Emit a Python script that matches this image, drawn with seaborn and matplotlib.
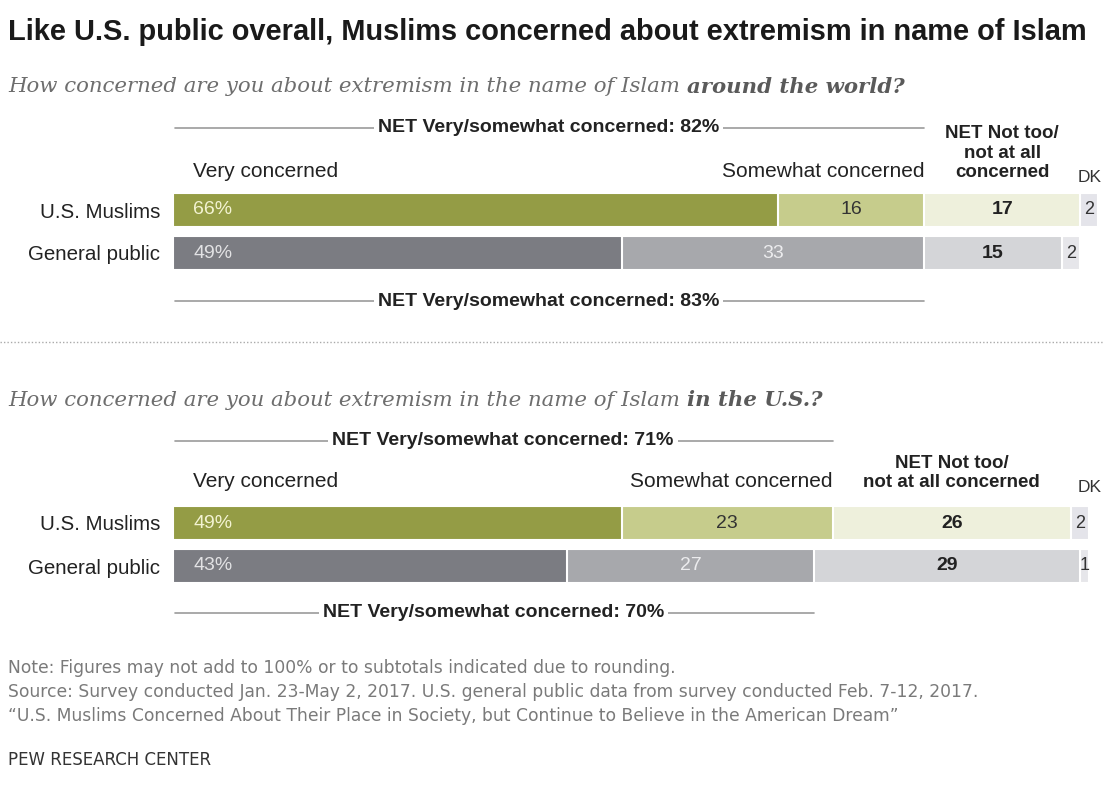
#!/usr/bin/env python3
"""Pew chart: concern about extremism in the name of Islam - stacked bars"""

import matplotlib.pyplot as plt
import pandas as pd
import seaborn as sns
from matplotlib.lines import Line2D

groups = ["U.S. Muslims", "General public"]

# around the world
world_very = [66, 49]
world_somewhat = [16, 33]
world_not = [17, 15]
world_dk = [2, 2]
world_net = [82, 83]

# in the U.S.
us_very = [49, 43]
us_somewhat = [23, 27]
us_not = [26, 29]
us_dk = [2, 1]
us_net = [71, 70]

colors = {
    "very": {"U.S. Muslims": "#949c45", "General public": "#7b7c82"},
    "somewhat": {"U.S. Muslims": "#c6cc8c", "General public": "#a7a8ac"},
    "not": {"U.S. Muslims": "#eef0dc", "General public": "#d4d5d8"},
    "dk": {"U.S. Muslims": "#e4e4ea", "General public": "#e6e6ea"},
}
very_text = {"U.S. Muslims": "#f3f3d2", "General public": "#e2e2e4"}
some_text = {"U.S. Muslims": "#333333", "General public": "#ececee"}

W, H = 1103, 785
sns.set_theme(style="white")
plt.rcParams["font.family"] = ["Liberation Sans", "DejaVu Sans"]

fig = plt.figure(figsize=(W / 100, H / 100), dpi=100)


def fx(px):
    return px / W


def fy(py):
    return 1 - py / H


def panel(top, very, somewhat, notc, dk, net, head_y, not_head, net_y):
    """one block of two stacked bars with its headers and NET lines"""
    ax = fig.add_axes([fx(173), fy(top + 86), fx(930), 86 / H])
    df = pd.DataFrame({"group": groups, "very": very, "somewhat": somewhat,
                       "not": notc, "dk": dk})
    df["c1"] = df["very"]
    df["c2"] = df["c1"] + df["somewhat"]
    df["c3"] = df["c2"] + df["not"]
    df["c4"] = df["c3"] + df["dk"]
    # widest first so the shorter segments sit on top
    for col, key in [("c4", "dk"), ("c3", "not"), ("c2", "somewhat"), ("c1", "very")]:
        sns.barplot(data=df, x=col, y="group", hue="group", palette=colors[key],
                    saturation=1, width=0.79, edgecolor="white", linewidth=1.5,
                    errorbar=None, legend=False, ax=ax)
    ax.set_xlim(0, 101.5)
    ax.set_ylim(1.5, -0.5)
    ax.set_xticks([])
    ax.set_xlabel("")
    ax.set_ylabel("")
    ax.tick_params(axis="y", length=0, pad=9, labelsize=14.8, labelcolor="#222222")
    sns.despine(ax=ax, left=True, bottom=True)

    for i, row in df.iterrows():
        g = row["group"]
        ax.text(2.2, i, f"{row['very']}%", ha="left", va="center", fontsize=14,
                color=very_text[g])
        ax.text(row["c1"] + row["somewhat"] / 2, i, str(row["somewhat"]), ha="center",
                va="center", fontsize=14, color=some_text[g])
        ax.text(row["c2"] + row["not"] / 2, i, str(row["not"]), ha="center",
                va="center", fontsize=14, fontweight="bold", color="#222222")
        ax.text(row["c3"] + row["dk"] / 2, i, str(row["dk"]), ha="center",
                va="center", fontsize=13, color="#333333")

    m = df.iloc[0]
    ax.text(2.2, head_y, "Very concerned", ha="left", va="baseline", fontsize=15,
            color="#222222")
    ax.text(m["c2"], head_y, "Somewhat concerned", ha="right", va="baseline",
            fontsize=15, color="#222222")
    ax.text(m["c2"] + m["not"] / 2, head_y, not_head, ha="center", va="baseline",
            fontsize=13.5, fontweight="bold", color="#222222", linespacing=1.2)
    ax.text(101.3, head_y + 0.1, "DK", ha="right", va="baseline",
            fontsize=12.5, color="#333333")

    # NET lines above (Muslims) and below (general public)
    for i, y in enumerate(net_y):
        end = df.loc[i, "c2"]
        ax.add_line(Line2D([0.2, end], [y, y], color="#9b9b9b", lw=1.2, clip_on=False))
        ax.text(end / 2, y, f"NET Very/somewhat concerned: {net[i]}%", ha="center",
                va="center", fontsize=14, fontweight="bold", color="#222222",
                bbox=dict(fc="white", ec="none", pad=3))
    return ax


panel(188.5, world_very, world_somewhat, world_not, world_dk, world_net,
      -0.76, "NET Not too/\nnot at all\nconcerned", (-1.91, 2.12))
panel(501.5, us_very, us_somewhat, us_not, us_dk, us_net,
      -0.83, "NET Not too/\nnot at all concerned", (-1.91, 2.09))

fig.text(fx(8), fy(32), "Like U.S. public overall, Muslims concerned about extremism in name of Islam",
         ha="left", va="center", fontsize=20.9, fontweight="bold", color="#1a1a1a")

renderer = fig.canvas.get_renderer()


def subtitle(py, plain, strong):
    t = fig.text(fx(8), fy(py), plain, ha="left", va="center", fontsize=15.3,
                 style="italic", color="#6e6e6e", family="DejaVu Serif")
    bb = t.get_window_extent(renderer)
    fig.text(bb.x1 / W, fy(py), strong, ha="left", va="center", fontsize=15.3,
             style="italic", fontweight="bold", color="#5a5a5a", family="DejaVu Serif")


subtitle(87, "How concerned are you about extremism in the name of Islam ", "around the world?")
subtitle(400, "How concerned are you about extremism in the name of Islam ", "in the U.S.?")

fig.add_artist(Line2D([0, 1], [fy(342), fy(342)], color="#aaaaaa", lw=1.0,
                      linestyle=(0, (1, 1.5))))

notes = [
    "Note: Figures may not add to 100% or to subtotals indicated due to rounding.",
    "Source: Survey conducted Jan. 23-May 2, 2017. U.S. general public data from survey conducted Feb. 7-12, 2017.",
    "\u201cU.S. Muslims Concerned About Their Place in Society, but Continue to Believe in the American Dream\u201d",
]
for k, line in enumerate(notes):
    fig.text(fx(8), fy(668 + 24 * k), line, ha="left", va="center", fontsize=12.3,
             color="#7a7a7a", family="DejaVu Sans")
fig.text(fx(8), fy(760), "PEW RESEARCH CENTER", ha="left", va="center", fontsize=12,
         color="#333333", family="DejaVu Sans")

fig.savefig("out.png", dpi=100, facecolor="white")
